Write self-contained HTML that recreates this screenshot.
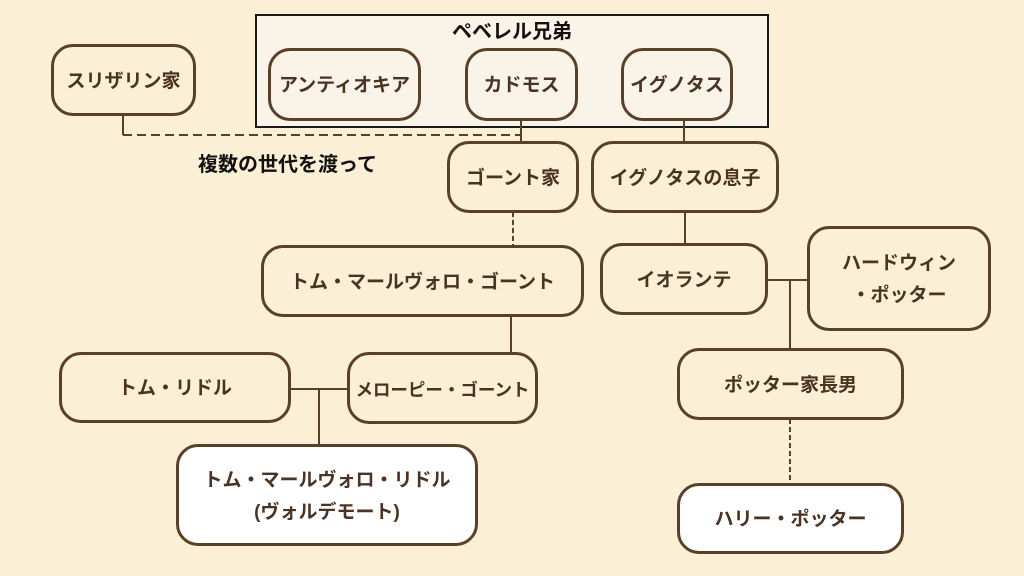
<!DOCTYPE html>
<html><head><meta charset="utf-8"><style>
html,body{margin:0;padding:0;}
body{width:1024px;height:576px;background:#FBEFD5;position:relative;overflow:hidden;font-family:"Liberation Sans","Noto Sans CJK JP",sans-serif;font-weight:bold;color:#4a3322;}
.n{position:absolute;box-sizing:border-box;border:3px solid #5b4029;border-radius:22px;background:#FBEFD5;display:flex;align-items:center;justify-content:center;text-align:center;font-size:19px;line-height:32px;padding-top:3px;white-space:nowrap;}
.w{background:#fff;}
.p{background:#FAF3E8;}
svg{position:absolute;left:0;top:0;}
</style></head><body>
<div style="position:absolute;left:255px;top:14px;width:514px;height:114px;box-sizing:border-box;border:2px solid #1a1a1a;background:#FAF3E8;"></div>
<div style="position:absolute;left:255px;top:15px;width:514px;text-align:center;font-size:20px;color:#111;">ペベレル兄弟</div>
<svg width="1024" height="576">
<g stroke="#5b4029" stroke-width="2" fill="none">
<path d="M123 115 V135"/>
<path d="M123 135 H521" stroke-dasharray="9 5"/>
<path d="M521 120 V141"/>
<path d="M684 120 V141"/>
<path d="M513 212 V246" stroke-dasharray="5 3"/>
<path d="M685 212 V243"/>
<path d="M511 316 V352"/>
<path d="M767 280 H808 M790 280 V348"/>
<path d="M290 389 H348 M319 389 V444"/>
<path d="M790 419 V483" stroke-dasharray="5 3"/>
</g></svg>
<div class="n" style="left:51px;top:44px;width:145px;height:72px;">スリザリン家</div>
<div class="n p" style="left:268px;top:48px;width:153px;height:73px;">アンティオキア</div>
<div class="n p" style="left:465px;top:48px;width:113px;height:73px;">カドモス</div>
<div class="n p" style="left:621px;top:48px;width:112px;height:73px;">イグノタス</div>
<div style="position:absolute;left:198px;top:148px;font-size:20px;color:#111;">複数の世代を渡って</div>
<div class="n" style="left:447px;top:141px;width:132px;height:72px;">ゴーント家</div>
<div class="n" style="left:591px;top:141px;width:188px;height:72px;">イグノタスの息子</div>
<div class="n" style="left:261px;top:245px;width:323px;height:72px;">トム・マールヴォロ・ゴーント</div>
<div class="n" style="left:600px;top:243px;width:168px;height:72px;">イオランテ</div>
<div class="n" style="left:807px;top:226px;width:184px;height:105px;">ハードウィン<br>・ポッター</div>
<div class="n" style="left:59px;top:352px;width:232px;height:71px;">トム・リドル</div>
<div class="n" style="left:347px;top:352px;width:191px;height:72px;font-size:17.5px;">メローピー・ゴーント</div>
<div class="n" style="left:677px;top:348px;width:227px;height:72px;">ポッター家長男</div>
<div class="n w" style="left:176px;top:444px;width:302px;height:102px;">トム・マールヴォロ・リドル<br>(ヴォルデモート)</div>
<div class="n w" style="left:677px;top:483px;width:227px;height:71px;">ハリー・ポッター</div>
</body></html>
